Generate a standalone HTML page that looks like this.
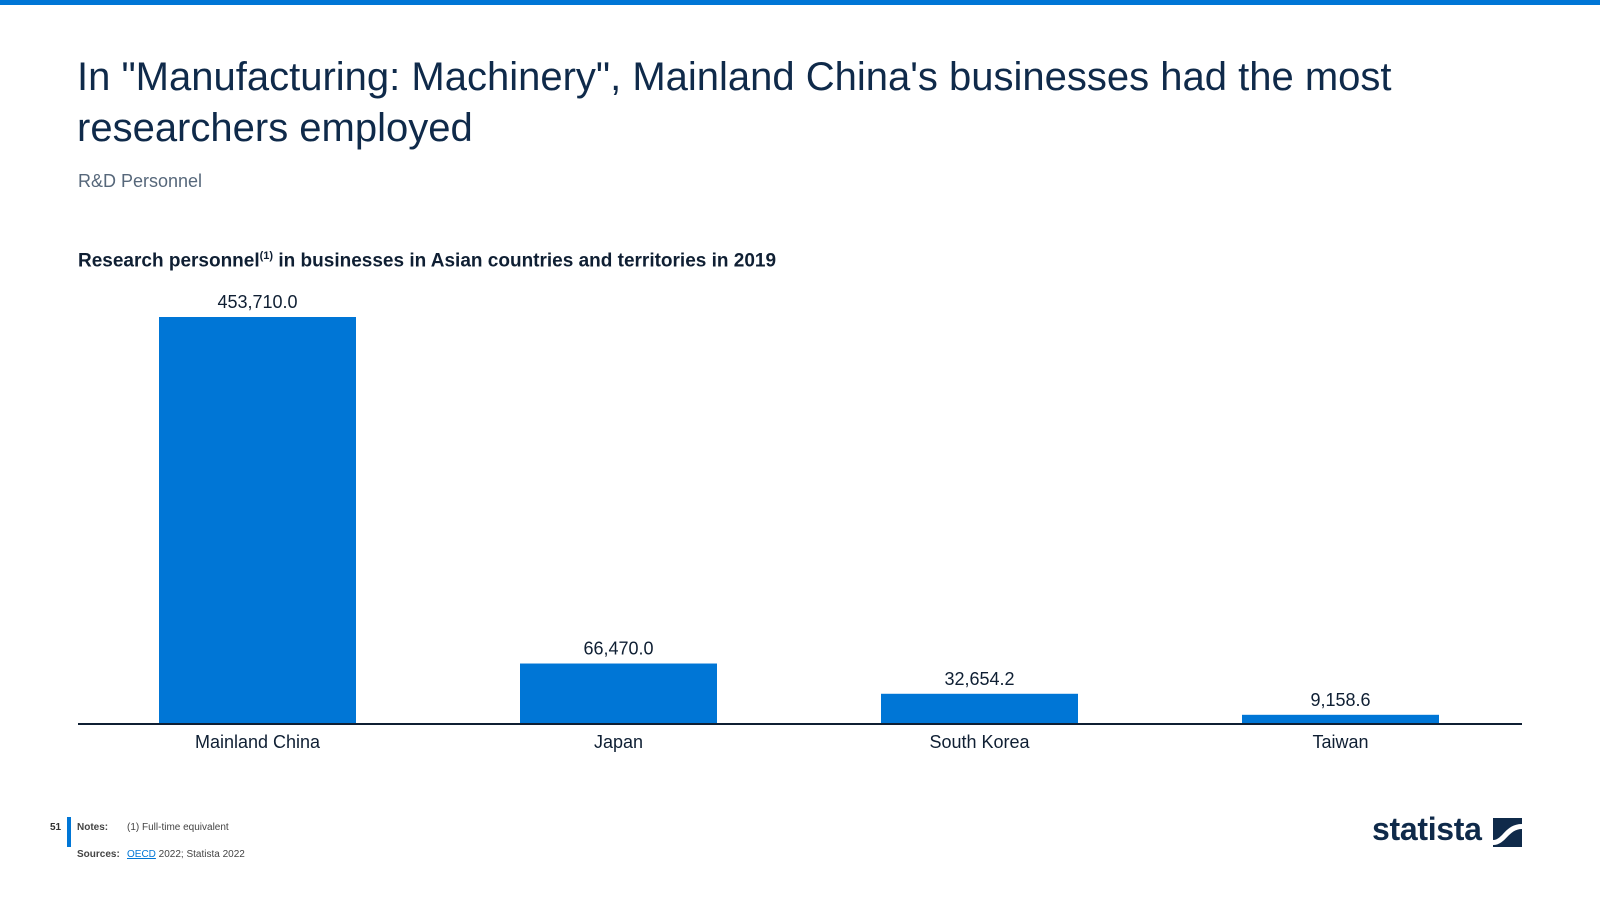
<!DOCTYPE html>
<html><head><meta charset="utf-8"><style>
body{margin:0;width:1600px;height:900px;background:#fff;font-family:"Liberation Sans",sans-serif;position:relative;overflow:hidden;color:#0f2a4a}
.abs{position:absolute}
</style></head><body>
<div class="abs" style="left:0;top:0;width:1600px;height:5px;background:#0076d6"></div>
<div class="abs" style="left:77px;top:52px;width:1450px;font-size:40px;line-height:51px;color:#0f2a4a;font-weight:300">In "Manufacturing: Machinery", Mainland China's businesses had the most researchers employed</div>
<div class="abs" style="left:78px;top:171px;font-size:18px;color:#56677a">R&amp;D Personnel</div>
<div class="abs" style="left:78px;top:250px;font-size:19px;font-weight:bold;color:#0f1f33">Research personnel<sup style="font-size:11px">(1)</sup> in businesses in Asian countries and territories in 2019</div>
<svg class="abs" style="left:0;top:0" width="1600" height="900">
<g id="bars"></g>
<line x1="78" x2="1522" y1="724" y2="724" stroke="#0f1f33" stroke-width="2"/>
</svg>
<div class="abs" style="left:50px;top:822px;font-size:10px;font-weight:bold;color:#333">51</div>
<div class="abs" style="left:67px;top:817px;width:4px;height:30px;background:#0076d6"></div>
<div class="abs" style="left:77px;top:822px;font-size:10px;color:#444"><b style="display:inline-block;width:50px">Notes:</b>(1) Full-time equivalent</div>
<div class="abs" style="left:77px;top:849px;font-size:10px;color:#444"><b style="display:inline-block;width:50px">Sources:</b><span style="color:#0076d6;text-decoration:underline">OECD</span> 2022; Statista 2022</div>
<div class="abs" style="left:1372px;top:811px;font-size:32px;font-weight:bold;color:#0f2a4a;letter-spacing:-0.3px">statista</div>
<svg class="abs" style="left:1493px;top:818px" width="29" height="29"><rect width="29" height="29" fill="#0f2a4a"/><path d="M0 22 C10 22 12 6 29 6 L29 11 C15 11 13 27 0 27Z" fill="#fff"/></svg>
<script>
const categories=["Mainland China","Japan","South Korea","Taiwan"];
const values=[453710.0,66470.0,32654.2,9158.6];
const valueLabels=["453,710.0","66,470.0","32,654.2","9,158.6"];
const g=document.getElementById('bars');
const base=723,plotH=406,maxV=453710;
const y=v=>base-v/maxV*plotH;
const x0=78,step=361,bw=197,off=81;
const ns="http://www.w3.org/2000/svg";
categories.forEach((c,i)=>{
 const x=x0+off+i*step;
 const r=document.createElementNS(ns,'rect');
 r.setAttribute('x',x);r.setAttribute('y',y(values[i]));r.setAttribute('width',bw);r.setAttribute('height',base-y(values[i]));r.setAttribute('fill','#0076d6');
 
 
 g.appendChild(r);
 const t=document.createElementNS(ns,'text');
 t.setAttribute('x',x+bw/2);t.setAttribute('y',y(values[i])-9);t.setAttribute('text-anchor','middle');t.setAttribute('font-size','18');t.setAttribute('fill','#0f1f33');t.setAttribute('font-family','Liberation Sans, sans-serif');
 t.textContent=valueLabels[i];
 
 
 g.appendChild(t);
 const l=document.createElementNS(ns,'text');
 l.setAttribute('x',x+bw/2);l.setAttribute('y',748);l.setAttribute('text-anchor','middle');l.setAttribute('font-size','18');l.setAttribute('fill','#0f1f33');l.setAttribute('font-family','Liberation Sans, sans-serif');
 l.textContent=c;
 
 
 g.appendChild(l);
});
</script>
</body></html>
